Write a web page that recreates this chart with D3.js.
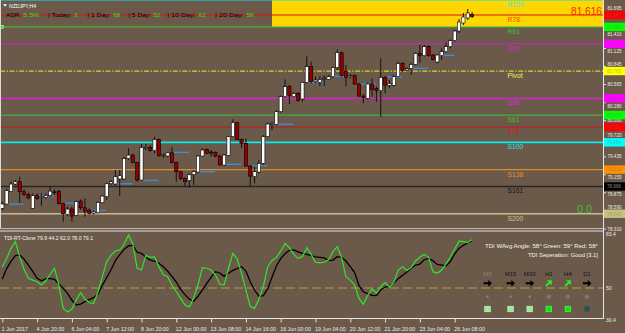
<!DOCTYPE html>
<html><head><meta charset="utf-8">
<script src="https://cdn.jsdelivr.net/npm/d3@7"></script>
<style>
html,body{margin:0;padding:0;background:#6b5a4a;}
svg{display:block;font-family:"Liberation Sans",Arial,sans-serif;}
</style></head><body>
<svg id="c" width="625" height="333"></svg>
<script>
// ---------------- DATA ----------------
const symbol = "NZDJPY,H4";
// [open, high, low, close] for each H4 bar
const candles = [
[78.624,78.728,78.598,78.692],[78.692,78.931,78.681,78.900],[78.889,79.040,78.879,79.004],[79.004,79.066,78.988,79.040],
[79.040,79.118,78.712,78.884],[78.884,78.920,78.816,78.842],[78.842,78.868,78.764,78.790],[78.624,78.858,78.614,78.822],
[78.822,78.858,78.754,78.780],[78.790,78.858,78.666,78.806],[78.796,78.858,78.780,78.827],[78.822,78.972,78.806,78.894],
[78.884,78.920,78.832,78.868],[78.894,78.910,78.686,78.697],[78.697,78.712,78.416,78.541],[78.530,78.650,78.504,78.614],
[78.614,78.650,78.416,78.504],[78.515,78.744,78.504,78.728],[78.738,78.764,78.598,78.634],[78.634,78.780,78.494,78.582],
[78.598,78.624,78.530,78.546],[78.551,78.598,78.530,78.572],[78.556,78.733,78.546,78.718],[78.712,78.832,78.702,78.816],
[78.806,79.024,78.754,79.009],[79.009,79.066,78.988,79.040],[79.004,79.222,78.988,79.118],[79.082,79.222,78.816,79.134],
[79.082,79.430,79.066,79.404],[79.404,79.560,79.378,79.456],[79.456,79.482,79.326,79.342],[79.342,79.352,79.040,79.066],
[79.066,79.628,79.056,79.576],[79.565,79.628,79.534,79.576],[79.576,79.612,79.508,79.524],[79.524,79.742,79.482,79.700],
[79.700,79.716,79.430,79.446],[79.446,79.482,79.414,79.456],[79.440,79.508,79.420,79.492],[79.492,79.576,79.326,79.342],
[79.342,79.352,79.040,79.196],[79.196,79.212,79.066,79.092],[79.092,79.118,78.962,79.040],[79.056,79.170,78.946,79.149],
[79.149,79.222,78.988,79.196],[79.191,79.456,79.180,79.440],[79.440,79.560,79.430,79.534],[79.544,79.560,79.472,79.482],
[79.503,79.534,79.430,79.487],[79.498,79.513,79.420,79.440],[79.440,79.456,79.284,79.305],[79.300,79.472,79.284,79.456],
[79.451,79.752,79.440,79.742],[79.742,80.012,79.732,79.960],[79.960,79.976,79.690,79.700],[79.700,79.716,79.560,79.638],
[79.638,79.716,79.274,79.284],[79.284,79.300,78.972,79.128],[79.118,79.274,79.014,79.196],[79.191,79.378,79.170,79.326],
[79.326,79.768,79.300,79.742],[79.742,79.960,79.732,79.940],[79.929,79.976,79.846,79.950],[79.934,80.158,79.924,80.132],
[80.132,80.387,80.116,80.366],[80.366,80.636,80.350,80.522],[80.522,80.548,80.252,80.382],[80.366,80.444,80.350,80.418],
[80.418,80.439,80.288,80.304],[80.330,80.600,80.288,80.590],[80.590,81.000,80.574,80.834],[80.834,80.912,80.574,80.600],
[80.600,80.678,80.574,80.626],[80.590,80.688,80.532,80.636],[80.647,80.694,80.532,80.657],[80.636,80.704,80.626,80.678],
[80.678,80.834,80.652,80.818],[80.818,81.104,80.782,81.052],[81.052,81.068,80.678,80.694],[80.766,80.860,80.532,80.668],
[80.678,80.720,80.652,80.694],[80.694,80.714,80.548,80.564],[80.564,80.584,80.366,80.376],[80.376,80.408,80.262,80.356],
[80.340,80.584,80.324,80.564],[80.564,80.652,80.366,80.480],[80.496,80.522,80.288,80.460],[80.460,80.964,80.054,80.668],
[80.668,80.688,80.418,80.548],[80.543,80.626,80.496,80.574],[80.543,80.699,80.522,80.678],[80.678,80.912,80.668,80.886],
[80.886,80.902,80.756,80.772],[80.782,80.824,80.756,80.803],[80.803,80.896,80.704,80.870],[80.870,81.058,80.855,81.042],
[81.042,81.172,80.896,81.006],[81.006,81.172,80.990,81.146],[81.146,81.167,80.990,81.006],[81.016,81.032,80.928,80.948],
[80.907,81.032,80.891,81.016],[81.006,81.120,80.938,81.068],[81.068,81.208,81.052,81.146],[81.146,81.260,81.120,81.240],
[81.240,81.406,81.224,81.390],[81.390,81.578,81.359,81.531],[81.515,81.671,81.484,81.609],[81.593,81.734,81.562,81.671],
[81.648,81.687,81.593,81.616]
];
const lastPrice = "81,616";
const levelNames  = ["R100","R78","R61","R38","Pivot","S38","S61","S78","S100","S138","S161","S200"];
const levelValues = [81.879,81.640,81.454,81.191,80.766,80.341,80.079,79.892,79.654,79.229,78.966,78.541];
const zoneStartBar = 62;              // yellow zone from this bar, above R61
const dayStartBars = [2,9,15,21,27,33,40,46,52,58,64,71,77,83,89,95,101];
const dayLineValues = [78.691,78.821,78.707,78.593,79.008,79.061,79.498,79.195,79.311,79.289,79.935,80.590,80.684,80.564,80.673,80.808,81.011];
const priceTicks = [81.695,81.410,81.125,80.845,80.565,80.280,80.000,79.720,79.435,79.155,78.875,78.590,78.310];
const timeLabels = ["1 Jun 2017","4 Jun 20:00","6 Jun 04:00","7 Jun 12:00","8 Jun 20:00","12 Jun 00:00","13 Jun 08:00",
                    "14 Jun 16:00","16 Jun 00:00","19 Jun 04:00","20 Jun 12:00","21 Jun 20:00","23 Jun 04:00","26 Jun 08:00"];
const timeLabelBars = [0,8,16,24,32,40,48,56,64,72,80,88,96,104];
const adrPct = "5.5%";
const adrNames = ["Today:","1 Day:","5 Day:","10 Day:","20 Day:"];
const adrValues = ["3","68","52","62","58"];
const tdiGreen = [63.2,68.3,74.5,78.7,69.4,61.6,56.0,54.9,53.9,51.9,
54.3,58.5,62.2,51.9,37.4,35.2,37.0,42.6,47.1,43.2,
40.9,40.5,47.7,57.0,66.3,70.4,72.9,73.5,77.0,82.8,
77.4,62.2,61.1,70.2,69.0,69.2,63.2,58.3,57.0,51.9,
47.7,43.6,39.5,38.3,44.0,51.9,62.6,62.2,61.1,58.0,
52.3,51.9,62.2,71.4,67.9,59.1,48.8,38.5,37.4,43.2,
50.8,63.2,66.9,68.8,72.9,77.6,74.9,70.8,68.3,69.4,
74.9,70.8,65.9,65.5,65.9,67.5,72.5,75.6,68.8,56.8,
54.9,51.9,43.6,39.9,45.3,49.4,46.9,50.8,53.3,50.6,
53.5,61.1,63.2,60.9,62.6,66.7,69.2,70.8,69.0,60.1,
59.1,61.1,64.9,69.2,74.1,79.1,78.7,78.2,79.9];
const tdiSignal = [55.4,62.0,66.5,70.0,70.4,67.9,64.2,60.3,56.0,54.5,
55.6,56.0,55.4,52.5,49.8,46.7,42.4,39.5,40.1,41.6,
43.0,44.0,46.3,51.7,56.4,61.3,66.9,70.6,73.9,76.0,
76.4,72.1,71.4,69.0,67.3,66.7,65.3,63.2,60.5,57.2,
53.7,49.2,45.9,43.0,41.8,44.9,48.8,52.9,56.6,60.1,
59.3,57.2,59.1,60.9,62.0,63.2,60.5,53.9,48.6,44.9,
45.3,49.4,56.6,63.6,68.2,71.2,73.3,73.5,72.3,71.4,
70.8,70.0,69.2,69.0,68.6,66.9,67.3,69.4,69.0,66.7,
63.2,59.5,51.5,47.7,46.5,45.5,45.3,48.8,50.6,51.2,
53.1,55.8,57.8,59.9,62.2,64.2,64.8,67.5,68.3,66.9,
64.6,64.2,63.8,66.3,71.2,74.5,76.4,78.0,79.1];
const tdiTitle = "TDI-RT-Clone 79.9 44.2 62.0 78.0 79.1";
const tdiMid = 50;
const tdiTicks = [83.4, 50, 30.4];
const tdiInfo1 = "TDI WAvg Angle: 58°  Green: 59°  Red: 58°";
const tdiInfo2 = "TDI Seperation: Good [3.1]";
const tfNames  = ["M5","M15","M30","H1","H4","D1"];
const tfArrow  = ["flat","flat","flat","up","up","flat"];
const tfDot    = ["small","small","small","big","big","big"];
const tfSquare = ["light","light","light","strong","strong","dark"];
const counterText = "0.0";

// ---------------- STYLES ----------------
const BG = "#6b5a4a";
const levelStyle = {
  R100:{line:"#00e8f0",label:"#40e0e8",w:1.5},
  R78:{line:"#d01818",label:"#ff3a00",w:1,box:"#ff0000"},
  R61:{line:"#3cc83c",label:"#34c034",w:1,box:"#00ff00"},
  R38:{line:"#d020d0",label:"#c828c8",w:1,box:"#ff00ff"},
  Pivot:{line:"#d8cf30",label:"#f4ee5a",w:1.2,dash:"5,1.6,1.4,1.6",box:"#ffff00"},
  S38:{line:"#f010f0",label:"#d828d8",w:1.3,box:"#ff00ff"},
  S61:{line:"#3cc83c",label:"#34c034",w:1,box:"#00ff00"},
  S78:{line:"#c81818",label:"#e01010",w:1,box:"#ff0000"},
  S100:{line:"#00f0f0",label:"#30e0e0",w:1.6,box:"#00ffff"},
  S138:{line:"#e08a2a",label:"#f08a30",w:1.2,box:"#ff9000"},
  S161:{line:"#262626",label:"#141414",w:1.4,box:"#000000"},
  S200:{line:"#cdb98a",label:"#d2c090",w:1.4,box:"#c8c080"}
};
const GREEN_TXT = "#1ee01e";

// ---------------- LAYOUT ----------------
const plotR = 603.5;
const x  = d3.scaleLinear().domain([0, 108]).range([2.3, 2.3 + 4.35*108]);
const y  = d3.scaleLinear().domain([78.334, 81.874]).range([227, 0]);
const yi = d3.scaleLinear().domain([30.4, 83.4]).range([319.7, 234]);

const svg = d3.select("#c");
svg.append("rect").attr("width",625).attr("height",333).attr("fill",BG);
const defs = svg.append("defs");
defs.append("clipPath").attr("id","cm").append("rect").attr("x",0).attr("y",0).attr("width",603).attr("height",228);
defs.append("clipPath").attr("id","ci").append("rect").attr("x",0).attr("y",231.5).attr("width",603).attr("height",87);

function T(p, tx, ty, s, o={}) {
  const t = p.append("text").attr("x",tx).attr("y",ty).text(s)
    .attr("font-size", o.size||6).attr("fill", o.fill||"#fff")
    .attr("text-anchor", o.anchor||"start");
  if (o.weight) t.attr("font-weight", o.weight);
  if (o.width) t.attr("textLength", o.width).attr("lengthAdjust","spacingAndGlyphs");
  return t;
}

// ---------- main panel ----------
const gm = svg.append("g").attr("clip-path","url(#cm)");
const iR61 = levelNames.indexOf("R61");
gm.append("rect").attr("x", x(zoneStartBar)).attr("y", 0)
  .attr("width", plotR - x(zoneStartBar)).attr("height", y(levelValues[iR61]))
  .attr("fill","#ffd700");

levelNames.forEach((n,i)=>{
  const st = levelStyle[n];
  gm.append("line").attr("x1",0).attr("x2",plotR)
    .attr("y1",y(levelValues[i])).attr("y2",y(levelValues[i]))
    .attr("stroke",st.line).attr("stroke-width",st.w)
    .attr("stroke-dasharray",st.dash||null);
});
gm.append("rect").attr("x",0.5).attr("y",y(levelValues[iR61])-1.5).attr("width",3).attr("height",3)
  .attr("fill","#30e030").attr("stroke","#d0ffd0").attr("stroke-width",0.5);

// daily lines
dayStartBars.forEach((b,i)=>{
  gm.append("line").attr("x1",x(b-0.6)).attr("x2",x(b+2.9))
    .attr("y1",y(dayLineValues[i])).attr("y2",y(dayLineValues[i]))
    .attr("stroke","#3a8ee0").attr("stroke-width",1.3);
});

// candles
const gc = gm.append("g");
candles.forEach(([o,h,l,c],i)=>{
  const cx = x(i);
  gc.append("line").attr("x1",cx).attr("x2",cx).attr("y1",y(h)).attr("y2",y(l))
    .attr("stroke","#111").attr("stroke-width",1);
  const top = y(Math.max(o,c)), bot = y(Math.min(o,c));
  gc.append("rect").attr("x",cx-1.6).attr("y",top).attr("width",3.2)
    .attr("height",Math.max(0.9,bot-top))
    .attr("fill", c>=o ? "#ffffff" : "#980000")
    .attr("stroke","#000").attr("stroke-width",0.6);
});

// level labels
levelNames.forEach((n,i)=>{
  T(gm, 507.5, y(levelValues[i])+7, n, {size:6.8, fill:levelStyle[n].label});
});

T(gm, 602, 14.5, lastPrice, {size:10.5, fill:"#ff1a00", anchor:"end", width:31});
T(gm, 577, 213, counterText, {size:10.8, fill:"#34c834", width:15});

// header
svg.append("path").attr("d","M3,4.3 L7,4.3 L5,6.8 Z").attr("fill","#fff");
T(svg, 9, 7.8, symbol, {size:5, fill:"#fff", width:27});
T(svg, 6, 16.8, "ADR:", {size:6.2, fill:"#000", width:15});
T(svg, 23.3, 16.8, adrPct, {size:6.2, fill:GREEN_TXT, width:16});
const adrLabelX = [48, 87.3, 128.3, 167.3, 215];
const adrLabelW = [23.5, 23.2, 22.7, 28.3, 29];
const adrValX = [74, 113.3, 153.3, 198.7, 246.7];
adrNames.forEach((n,i)=>{
  T(svg, adrLabelX[i], 16.8, (i===4 ? "|  " : "| ") + n, {size:6.2, fill:"#000", width:adrLabelW[i]});
  T(svg, adrValX[i], 16.8, adrValues[i], {size:6.2, fill:GREEN_TXT});
});

// panel borders
svg.append("line").attr("x1",0.5).attr("x2",0.5).attr("y1",0).attr("y2",228).attr("stroke","#d8d8d8").attr("stroke-width",1);
svg.append("line").attr("x1",0).attr("x2",plotR).attr("y1",228.6).attr("y2",228.6).attr("stroke","#c8c2ba").attr("stroke-width",1);
svg.append("line").attr("x1",0).attr("x2",plotR).attr("y1",231).attr("y2",231).attr("stroke","#e2e2e2").attr("stroke-width",1);
svg.append("line").attr("x1",plotR).attr("x2",plotR).attr("y1",0).attr("y2",319).attr("stroke","#e6e6e6").attr("stroke-width",1);
svg.append("line").attr("x1",0).attr("x2",plotR).attr("y1",318.5).attr("y2",318.5).attr("stroke","#e6e6e6").attr("stroke-width",1);

// price axis
const boxLevels = levelNames.map((n,i)=>({n, v:levelValues[i]}))
  .filter(d => levelStyle[d.n].box && d.v <= y.domain()[1]);
const gy = svg.append("g").attr("transform",`translate(${plotR},0)`)
  .call(d3.axisRight(y).tickValues(priceTicks).tickFormat(d3.format(".3f")).tickSize(2.5).tickPadding(1.5));
gy.select(".domain").remove();
gy.selectAll(".tick line").attr("stroke","#e0e0e0");
gy.selectAll(".tick text").attr("font-size",4.8).attr("fill","#ececec")
  .attr("font-family","Liberation Sans, Arial, sans-serif")
  .attr("textLength",14).attr("lengthAdjust","spacingAndGlyphs")
  .attr("y", v => {
    // nudge a tick label clear of a level price box, like the terminal does
    const yy = y(v);
    let shift = 0;
    boxLevels.forEach(b => {
      const yb = y(b.v), gap = 7.2;
      if (Math.abs(yy - yb) < gap) shift = (yy < yb ? (yb - gap) : (yb + gap)) - yy;
    });
    return shift;
  });

// level boxes on price axis
const gb = svg.append("g");
boxLevels.forEach(d=>{
  const st = levelStyle[d.n], yy = y(d.v);
  gb.append("rect").attr("x",plotR+0.5).attr("y",yy-4.2).attr("width",21).attr("height",8.4).attr("fill",st.box);
  const tc = d.n==="S161" ? "#8a8a8a" : d3.interpolateRgb(st.box,"#707070")(0.45);
  T(gb, plotR+3.5, yy+1.8, d3.format(".3f")(d.v), {size:4.8, fill:tc, width:14});
});

// ---------- indicator panel ----------
const gi = svg.append("g").attr("clip-path","url(#ci)");
gi.append("line").attr("x1",0).attr("x2",plotR).attr("y1",yi(tdiMid)).attr("y2",yi(tdiMid))
  .attr("stroke","#c49a3c").attr("stroke-width",1).attr("stroke-dasharray","9,4");
const ln = d3.line().x((d,i)=>x(i)).y(d=>yi(d));
gi.append("path").datum(tdiSignal).attr("d",ln).attr("fill","none").attr("stroke","#000").attr("stroke-width",1.3);
gi.append("path").datum(tdiGreen).attr("d",ln).attr("fill","none").attr("stroke","#2ee62e").attr("stroke-width",1.2);

T(svg, 4, 239.5, tdiTitle, {size:5.2, fill:"#f4f4f4", width:89});
T(svg, 598, 248, tdiInfo1, {size:5.6, fill:"#f4f4f4", anchor:"end", width:113});
T(svg, 598, 256.7, tdiInfo2, {size:5.6, fill:"#f4f4f4", anchor:"end", width:70});

const tfx = d3.scalePoint().domain(tfNames).range([491.5, 587]);
const tcx = n => tfx(n) - (n==="M5" ? 4 : 0);
tfNames.forEach((n,i)=>{
  const cx = tcx(n);
  T(svg, cx, 275.5, n, {size:6, fill: i===0 ? "#8e8273" : "#111", anchor:"middle"});
  const up = tfArrow[i]==="up";
  const col = up ? "#22ee22" : "#000";
  svg.append("path")
    .attr("d","M-4,-1 L0.8,-1 L0.8,-3.4 L4.4,0 L0.8,3.4 L0.8,1 L-4,1 Z")
    .attr("fill",col)
    .attr("transform",`translate(${cx},283.3) rotate(${up?-45:0})`);
  const big = tfDot[i]==="big";
  svg.append("circle").attr("cx",cx).attr("cy",296.7).attr("r", big?2.3:1.1)
    .attr("fill", big ? "#767676" : "#8a8a8a");
  const sq = tfSquare[i];
  svg.append("rect").attr("x",cx-2.8).attr("y",306.2).attr("width",5.6).attr("height",5.6)
    .attr("fill", sq==="light" ? "#98e898" : sq==="strong" ? "#00f000" : "#2f4f4f")
    .attr("stroke", sq==="light" ? "#d0f8d0" : sq==="strong" ? "#60ff60" : "#3c5c5c").attr("stroke-width",0.6);
});

// indicator axis
const gyi = svg.append("g").attr("transform",`translate(${plotR},0)`)
  .call(d3.axisRight(yi).tickValues(tdiTicks).tickFormat(d => d===50 ? "50" : d3.format(".1f")(d)).tickSize(0).tickPadding(2.5));
gyi.select(".domain").remove();
gyi.selectAll(".tick text").attr("font-size",5).attr("fill","#ececec")
  .attr("font-family","Liberation Sans, Arial, sans-serif");

// time axis
const gx = svg.append("g").attr("transform","translate(0,318.5)")
  .call(d3.axisBottom(x).tickValues(timeLabelBars).tickFormat((d,i)=>timeLabels[i]).tickSize(4));
gx.select(".domain").remove();
gx.selectAll(".tick line").attr("stroke","#e0e0e0");
gx.selectAll(".tick text").attr("font-size",5.3).attr("fill","#ececec")
  .attr("font-family","Liberation Sans, Arial, sans-serif")
  .attr("text-anchor","start").attr("x",-1).attr("y",8.4);
</script>
</body></html>
